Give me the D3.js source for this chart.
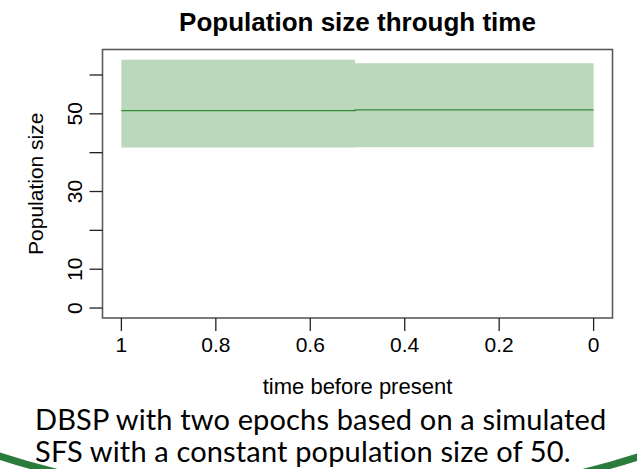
<!DOCTYPE html>
<html>
<head>
<meta charset="utf-8">
<script src="https://cdn.jsdelivr.net/npm/d3@7"></script>
<style>
  body { margin: 0; background: #fff; }
  svg text { font-family: "Liberation Sans", Arial, sans-serif; }
</style>
</head>
<body>
<div id="graph"></div>
<script>
// epochs: start/end time (before present), median and 95% band
var epochStart = [1, 0.505];
var epochEnd = [0.505, 0];
var epochMedian = [50.8, 51.0];
var epochLower = [41.3, 41.4];
var epochUpper = [63.9, 63.0];

var xTicks = [1, 0.8, 0.6, 0.4, 0.2, 0];
var xTickLabels = ["1", "0.8", "0.6", "0.4", "0.2", "0"];
var yTicks = [0, 10, 20, 30, 40, 50, 60];
var yTickLabels = ["0", "10", "", "30", "", "50", ""];

var captionLines = [
  "DBSP with two epochs based on a simulated",
  "SFS with a constant population size of 50."
];

(function() {

    var width = 637,
        height = 469,
        plotLeft = 102.5,
        plotRight = 612.5,
        plotTop = 49.5,
        plotBottom = 318;

    var svg = d3.select('#graph')
        .append('svg')
        .attr('width', width)
        .attr('height', height);

    // R style: data range padded by 4% on each side
    var x = d3.scaleLinear()
        .domain([1.04, -0.04])
        .range([plotLeft, plotRight]);

    var y = d3.scaleLinear()
        .domain([-2.56, 66.56])
        .range([plotBottom, plotTop]);

    // band polygon through the epochs
    var bandPts = [];
    epochStart.forEach(function(s, i) {
        bandPts.push([x(s), y(epochUpper[i])]);
        bandPts.push([x(epochEnd[i]), y(epochUpper[i])]);
    });
    for (var i = epochStart.length - 1; i >= 0; i--) {
        bandPts.push([x(epochEnd[i]), y(epochLower[i])]);
        bandPts.push([x(epochStart[i]), y(epochLower[i])]);
    }
    svg.append('polygon')
        .attr('points', bandPts.map(function(p) { return p.join(','); }).join(' '))
        .attr('fill', '#bcd8bc');

    var medPts = [];
    epochStart.forEach(function(s, i) {
        medPts.push([x(s), y(epochMedian[i])]);
        medPts.push([x(epochEnd[i]), y(epochMedian[i])]);
    });
    svg.append('path')
        .attr('d', d3.line()(medPts))
        .attr('fill', 'none')
        .attr('stroke', '#2f8a3a')
        .attr('stroke-width', 1.2);

    // box
    svg.append('rect')
        .attr('x', plotLeft)
        .attr('y', plotTop)
        .attr('width', plotRight - plotLeft)
        .attr('height', plotBottom - plotTop)
        .attr('fill', 'none')
        .attr('stroke', '#5a5a5a')
        .attr('stroke-width', 1.6);

    // x axis
    var xAxis = svg.append('g');
    xAxis.selectAll('line')
        .data(xTicks)
        .enter()
        .append('line')
        .attr('x1', function(d) { return x(d); })
        .attr('x2', function(d) { return x(d); })
        .attr('y1', plotBottom)
        .attr('y2', plotBottom + 13)
        .attr('stroke', '#222')
        .attr('stroke-width', 1.3);
    xAxis.selectAll('text')
        .data(xTicks)
        .enter()
        .append('text')
        .attr('x', function(d) { return x(d); })
        .attr('y', 352)
        .attr('text-anchor', 'middle')
        .attr('font-size', 21)
        .text(function(d, i) { return xTickLabels[i]; });

    // y axis
    var yAxis = svg.append('g');
    yAxis.selectAll('line')
        .data(yTicks)
        .enter()
        .append('line')
        .attr('x1', plotLeft - 13)
        .attr('x2', plotLeft)
        .attr('y1', function(d) { return y(d); })
        .attr('y2', function(d) { return y(d); })
        .attr('stroke', '#222')
        .attr('stroke-width', 1.3);
    yAxis.selectAll('text')
        .data(yTicks)
        .enter()
        .append('text')
        .attr('transform', function(d) { return 'translate(82,' + y(d) + ') rotate(-90)'; })
        .attr('text-anchor', 'middle')
        .attr('font-size', 21)
        .text(function(d, i) { return yTickLabels[i]; });

    // titles
    svg.append('text')
        .attr('x', (plotLeft + plotRight) / 2)
        .attr('y', 31)
        .attr('text-anchor', 'middle')
        .attr('font-size', 26)
        .attr('font-weight', 'bold')
        .text('Population size through time');

    svg.append('text')
        .attr('x', (plotLeft + plotRight) / 2)
        .attr('y', 394)
        .attr('text-anchor', 'middle')
        .attr('font-size', 22)
        .text('time before present');

    svg.append('text')
        .attr('transform', 'translate(43,' + (plotTop + plotBottom) / 2 + ') rotate(-90)')
        .attr('text-anchor', 'middle')
        .attr('font-size', 21)
        .text('Population size');

    // caption
    svg.selectAll('.caption')
        .data(captionLines)
        .enter()
        .append('text')
        .attr('class', 'caption')
        .attr('x', 35)
        .attr('y', function(d, i) { return 430 + i * 32; })
        .style('font-family', 'Lato, "Open Sans", sans-serif')
        .attr('font-size', 29)
        .attr('letter-spacing', 0.15)
        .text(function(d) { return d; });

    // decorative green frame, only its lower rim shows
    svg.append('clipPath')
        .attr('id', 'frameClip')
        .append('rect')
        .attr('x', 0)
        .attr('y', 440)
        .attr('width', width)
        .attr('height', 40);
    svg.append('ellipse')
        .attr('clip-path', 'url(#frameClip)')
        .attr('cx', 320)
        .attr('cy', 298)
        .attr('rx', 507)
        .attr('ry', 204)
        .attr('fill', 'none')
        .attr('stroke', '#2b7b3c')
        .attr('stroke-width', 7);

})();
</script>
</body>
</html>
